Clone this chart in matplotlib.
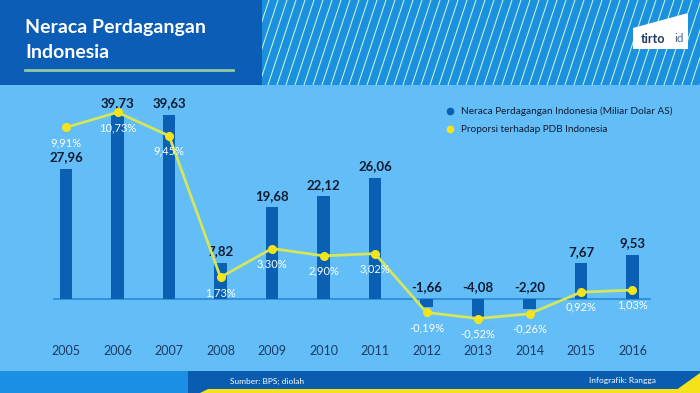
import matplotlib
matplotlib.use("Agg")
import matplotlib.pyplot as plt
from matplotlib.patches import Rectangle, Polygon
import numpy as np

# data
years = ["2005", "2006", "2007", "2008", "2009", "2010",
         "2011", "2012", "2013", "2014", "2015", "2016"]
neraca = [27.96, 39.73, 39.63, 7.82, 19.68, 22.12, 26.06, -1.66, -4.08, -2.20, 7.67, 9.53]
proporsi = [9.91, 10.73, 9.45, 1.73, 3.30, 2.90, 3.02, -0.19, -0.52, -0.26, 0.92, 1.03]

TITLE_1 = "Neraca Perdagangan"
TITLE_2 = "Indonesia"
LEG_BAR = "Neraca Perdagangan Indonesia (Miliar Dolar AS)"
LEG_LINE = "Proporsi terhadap PDB Indonesia"
SOURCE = "Sumber: BPS; diolah"
CREDIT = "Infografik: Rangga"

BG = "#63bdf6"
HEAD = "#0b5db5"
STRIPE_BG = "#1a90de"
STRIPE = "#bff0d6"
BAR_C = "#0a61b3"
BASE_C = "#2a8ad6"
LINE_C = "#d3e65c"
DOT_C = "#f4e41a"
DARK = "#0f1c33"
YEAR_C = "#1b3a66"
FOOT_L = "#1a8fe3"
FOOT_R = "#0a5cb0"
YELLOW = "#f5e21a"

plt.rcParams["font.family"] = ["Lato", "DejaVu Sans"]

W, H = 700, 393
fig = plt.figure(figsize=(W / 100, H / 100), dpi=100, facecolor=BG)

# background decorations in pixel coordinates
bg = fig.add_axes([0, 0, 1, 1], zorder=0)
bg.set_xlim(0, W)
bg.set_ylim(H, 0)
bg.axis("off")
bg.add_patch(Rectangle((0, 0), W, H, fc=BG, ec="none", zorder=0))

# header
bg.add_patch(Rectangle((0, 0), 262, 85, fc=HEAD, ec="none", zorder=1))
clip = Rectangle((262, 0), W - 262, 85, fc=STRIPE_BG, ec="none", zorder=1)
bg.add_patch(clip)
for x0 in np.arange(232, W + 10, 9.0):
    ln, = bg.plot([x0, x0 + 28], [85, 0], color=STRIPE, lw=0.8, zorder=2)
    ln.set_clip_path(clip)
bg.text(25, 28, TITLE_1, color="white", fontsize=14, fontweight="bold",
        va="center", ha="left", zorder=3)
bg.text(25, 52, TITLE_2, color="white", fontsize=14, fontweight="bold",
        va="center", ha="left", zorder=3)
bg.plot([25, 233], [70, 70], color="#8fc9a6", lw=2, zorder=3)

# logo
bg.add_patch(Polygon([(633, 28), (688, 13), (688, 49), (633, 49)],
                     closed=True, fc="white", ec="none", zorder=5))
bg.text(653, 39, "tirto", color="#1f3a5f", fontsize=9, fontweight="bold",
        ha="center", va="center", zorder=6)
bg.text(679, 39, "id", color="#4a6a90", fontsize=8.5, ha="center", va="center", zorder=6)

# footer
bg.add_patch(Rectangle((0, 371), 188, H - 371, fc=FOOT_L, ec="none", zorder=1))
bg.add_patch(Rectangle((188, 371), W - 188, H - 371, fc=FOOT_R, ec="none", zorder=1))
bg.add_patch(Polygon([(200, H), (208, 389), (W, 389), (W, H)], closed=True,
                     fc=YELLOW, ec="none", zorder=2))
bg.add_patch(Polygon([(672, H), (W, 373), (W, H)], closed=True, fc=YELLOW, ec="none", zorder=2))
bg.text(267, 381, SOURCE, color="white", fontsize=6, ha="center", va="center", zorder=3)
bg.text(622, 381, CREDIT, color="white", fontsize=6, ha="center", va="center", zorder=3)

# legend
bg.plot([450], [111], "o", color=BAR_C, ms=4.5, zorder=3)
bg.text(461, 111, LEG_BAR, color=DARK, fontsize=7.2, va="center", ha="left", zorder=3)
bg.plot([450], [129], "o", color=DOT_C, ms=4.5, zorder=3)
bg.text(461, 129, LEG_LINE, color=DARK, fontsize=7.2, va="center", ha="left", zorder=3)

# main chart
x = np.arange(len(years))
ax = fig.add_axes([40 / W, (H - 330) / H, 620 / W, 240 / H], zorder=1)
ax.patch.set_visible(False)
ax.bar(x, neraca, width=0.25, color=BAR_C, zorder=2)
ax.hlines(0, -0.25, 11.35, color=BASE_C, lw=1.2, zorder=1)
ax.set_xlim(-0.505, 11.534)
ax.set_ylim(-6.667, 44.95)
ax.set_yticks([])
ax.set_xticks(x)
ax.set_xticklabels(years, fontsize=9, color=YEAR_C)
ax.tick_params(axis="x", length=0, pad=10.5)
for s in ax.spines.values():
    s.set_visible(False)
for i, v in enumerate(neraca):
    ax.annotate(f"{v:.2f}".replace(".", ","), (i, max(v, 0)), xytext=(0, 4),
                textcoords="offset points", ha="center", va="bottom",
                fontsize=9.5, fontweight="bold", color=DARK, zorder=5)

ax2 = ax.twinx()
ax2.patch.set_visible(False)
ax2.set_ylim(-1.146, 11.948)
ax2.set_yticks([])
for s in ax2.spines.values():
    s.set_visible(False)
ax2.plot(x, proporsi, color=LINE_C, lw=2, zorder=3)
ax2.plot(x, proporsi, "o", color=DOT_C, ms=5.5, zorder=4)
for i, v in enumerate(proporsi):
    ax2.annotate(f"{v:.2f}%".replace(".", ","), (i, v), xytext=(0, -11),
                 textcoords="offset points", ha="center", va="center",
                 fontsize=8, color="white", zorder=5)

fig.savefig("out.png", dpi=100, facecolor=BG)
